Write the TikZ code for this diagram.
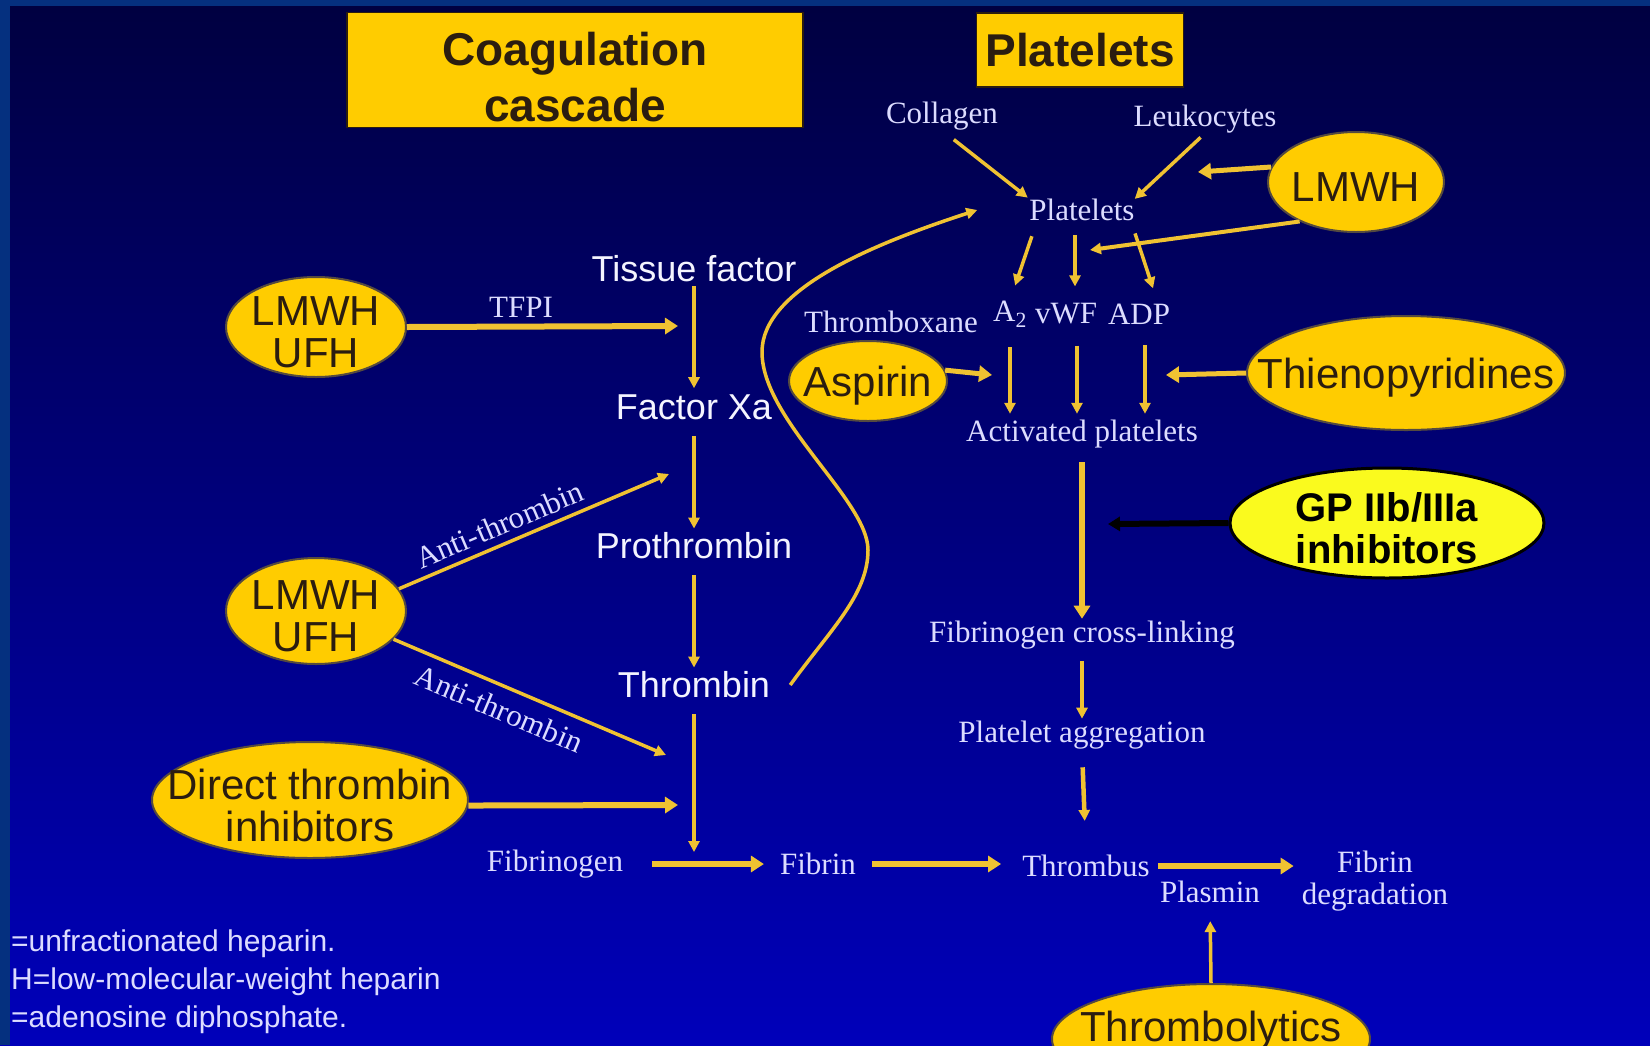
\documentclass[tikz,border=0pt]{standalone}
\usepackage{fontspec}
\setmainfont{Liberation Serif}
\setsansfont{Liberation Sans}
\usetikzlibrary{shapes.geometric,arrows.meta}
\definecolor{bgtop}{HTML}{000040}
\definecolor{bgmid}{HTML}{00009A}
\definecolor{bgbot}{HTML}{0000BA}
\definecolor{rim}{HTML}{05307F}
\definecolor{gold}{HTML}{FFCC00}
\definecolor{arrc}{HTML}{F0C232}
\definecolor{ink}{HTML}{2B1D10}
\definecolor{pale}{HTML}{DCDCFF}
\definecolor{snow}{HTML}{F4F4FF}
\definecolor{gpyellow}{HTML}{FAFA1E}
\begin{document}
\begin{tikzpicture}[x=1pt,y=-1pt,
  oval/.style={ellipse,fill=gold,draw=ink!80,line width=2pt,inner sep=0pt},
  drugtxt/.style={inner sep=0pt,text=ink,font=\sffamily\fontsize{42}{42}\selectfont,align=center,yshift=-5pt},
  drug/.style={oval,label={[drugtxt]center:{#1}}},
  head/.style={rectangle,fill=gold,draw=ink,line width=1.5pt,inner sep=0pt},
  headtxt/.style={inner sep=0pt,text=ink,font=\sffamily\bfseries\fontsize{46}{56}\selectfont,align=center},
  coag/.style={inner sep=0pt,text=snow,font=\sffamily\fontsize{36}{40}\selectfont},
  plat/.style={inner sep=0pt,text=pale,font=\rmfamily\fontsize{31}{32}\selectfont,align=center},
  legend/.style={anchor=west,inner sep=0pt,text=pale,font=\sffamily\fontsize{30}{32}\selectfont},
  thinarr/.style={draw=arrc,line width=3.5pt,-{Triangle[length=11pt,width=11pt]}},
  bigarr/.style={draw=arrc,line width=6pt,-{Triangle[length=13pt,width=16pt]}},
  gparr/.style={draw=black,line width=6pt,-{Triangle[length=12pt,width=14pt]}}]
\useasboundingbox (0,0) rectangle (1650,1045);
\clip (0,0) rectangle (1650,1045);
\shade[top color=bgtop,middle color=bgmid,bottom color=bgbot] (0,0) rectangle (1650,1045);
\fill[rim] (0,0) rectangle (10,1045);
\fill[rim] (0,0) rectangle (1650,6);

\node[head,minimum width=456pt,minimum height=115pt,
  label={[headtxt,yshift=-7pt]center:{Coagulation\\cascade}}] (coagbox) at (575,70) {};
\node[head,minimum width=207pt,minimum height=74pt,
  label={[headtxt]center:{Platelets}}] (platbox) at (1080,50) {};

\node[drug={LMWH\\UFH},minimum width=180pt,minimum height=100pt] (lmwha) at (316,327) {};
\node[drug={LMWH\\UFH},minimum width=180pt,minimum height=106pt] (lmwhb) at (316,611) {};
\node[drug={Direct thrombin\\inhibitors},minimum width=316pt,minimum height=116pt] (dti) at (310,800) {};
\node[drug={LMWH},minimum width=176pt,minimum height=100pt] (lmwhc) at (1356,182) {};
\node[drug={Aspirin},minimum width=158pt,minimum height=80pt] (asp) at (868,381) {};
\node[drug={Thienopyridines},minimum width=318pt,minimum height=114pt] (thi) at (1406,373) {};
\node[oval,fill=gpyellow,draw=black,line width=3pt,minimum width=314pt,minimum height=110pt,
  label={[drugtxt,text=black,font=\sffamily\bfseries\fontsize{40}{42}\selectfont]center:{GP IIb/IIIa\\inhibitors}}] (gp) at (1387,523) {};
\node[oval,minimum width=318pt,minimum height=110pt,
  label={[drugtxt,yshift=13pt]center:{Thrombolytics}}] (thl) at (1211,1039) {};

\node[coag] (tf) at (694,269) {Tissue factor};
\node[coag] (fxa) at (694,407) {Factor Xa};
\node[coag] (proth) at (694,546) {Prothrombin};
\node[coag] (thr) at (694,685) {Thrombin};

\node[plat] (tfpi) at (521,307) {TFPI};
\node[plat] (col) at (942,116) {Collagen};
\node[plat] (leuk) at (1205,119) {Leukocytes};
\node[plat] (plt) at (1082,210) {Platelets};
\node[plat] (txa) at (891,322) {Thromboxane};
\node[plat] (a2) at (1010,314) {A\textsubscript{2}};
\node[plat] (vwf) at (1066,314) {vWF};
\node[plat] (adp) at (1139,314) {ADP};
\node[plat] (act) at (1082,434) {Activated platelets};
\node[plat] (fcl) at (1082,635) {Fibrinogen cross-linking};
\node[plat] (pag) at (1082,735) {Platelet aggregation};
\node[plat] (fbg) at (555,864) {Fibrinogen};
\node[plat] (fbn) at (818,864) {Fibrin};
\node[plat] (thb) at (1086,866) {Thrombus};
\node[plat] (pls) at (1210,892) {Plasmin};
\node[plat] (fdeg) at (1375,881) {Fibrin\\degradation};

\node[legend] (lg1) at (11,944) {=unfractionated heparin.};
\node[legend] (lg2) at (11,982) {H=low-molecular-weight heparin};
\node[legend] (lg3) at (11,1020) {=adenosine diphosphate.};

\coordinate (tfpitip) at (678,326);
\coordinate (attip1) at (669,474);
\coordinate (attip2) at (666,755);
\coordinate (dtitip) at (678,805);
\coordinate (fjoin) at (691,852);
\coordinate (lmwhtip) at (1198,172);
\coordinate (lmwhtip2) at (1090,250);
\coordinate (asptip) at (992,375);
\coordinate (thitip) at (1166,375);
\coordinate (gptip) at (1108,524);
\coordinate (cv1) at (868,550);
\coordinate (cv2) at (762,352);

\draw[thinarr,shorten <=4pt,shorten >=6pt] (tf) -- (fxa);
\draw[thinarr,shorten <=16pt,shorten >=4pt] (fxa) -- (proth);
\draw[thinarr,shorten <=16pt,shorten >=4pt] (proth) -- (thr);
\draw[thinarr,shorten <=16pt] (thr.south) -- (thr.south |- fjoin);
\draw[bigarr] (lmwha.east) -- (tfpitip);
\draw[thinarr] (lmwhb.15) -- node[plat,sloped,above=7pt,pos=0.4]{Anti-thrombin} (attip1);
\draw[thinarr] (lmwhb.-20) -- node[plat,sloped,below=10pt,pos=0.42]{Anti-thrombin} (attip2);
\draw[bigarr] (dti.-2) -- (dtitip);
\draw[thinarr] ([xshift=20pt]thr.east) .. controls (830,630) and (868,595) .. (cv1)
  .. controls (868,500) and (762,420) .. (cv2) .. controls (762,290) and (870,245) .. ([xshift=-52pt]plt.west);

\draw[thinarr,shorten <=15pt,shorten >=2pt] (col.south) -- (plt.north west);
\draw[thinarr,shorten <=6pt] (leuk.south) -- (plt.north east);
\draw[bigarr,line width=5pt] (lmwhc.170) -- (lmwhtip);
\draw[thinarr,line width=4pt] (lmwhc.215) -- (lmwhtip2);
\draw[thinarr,shorten <=16pt,shorten >=16pt] ([xshift=-45pt]plt.south) -- (a2.north);
\draw[thinarr,shorten <=14pt,shorten >=17pt] ([xshift=-7pt]plt.south) -- ([xshift=9pt]vwf.north);
\draw[thinarr,shorten <=13pt,shorten >=16pt] ([xshift=49pt]plt.south) -- ([xshift=19pt]adp.north);
\draw[thinarr,shorten <=20pt,shorten >=6pt] (a2.south) -- (a2.south |- act.north);
\draw[thinarr,shorten <=21pt,shorten >=6pt] ([xshift=11pt]vwf.south) -- ([xshift=-5pt]act.north);
\draw[thinarr,shorten <=21pt,shorten >=6pt] ([xshift=6pt]adp.south) -- ([xshift=63pt]act.north);
\draw[bigarr,line width=5pt] (asp.8) -- (asptip);
\draw[bigarr,line width=5pt] (thi.west) -- (thitip);
\draw[bigarr,shorten <=14pt,shorten >=2pt] (act.south) -- (fcl.north);
\draw[gparr] (gp.west) -- (gptip);
\draw[thinarr,line width=4.5pt,shorten <=12pt,shorten >=2pt] (fcl.south) -- (pag.north);
\draw[thinarr,line width=4.5pt,shorten <=18pt,shorten >=34pt] (pag.south) -- (thb.north);

\draw[bigarr,shorten <=29pt,shorten >=16pt] (fbg.east) -- (fbn.west);
\draw[bigarr,shorten <=16pt,shorten >=21pt] (fbn.east) -- (fbn.east -| thb.west);
\draw[bigarr,shorten <=8pt,shorten >=8pt] (thb.east) -- (thb.east -| fdeg.west);
\draw[thinarr,shorten >=18pt] (thl.north) -- (pls.south);
\end{tikzpicture}
\end{document}
